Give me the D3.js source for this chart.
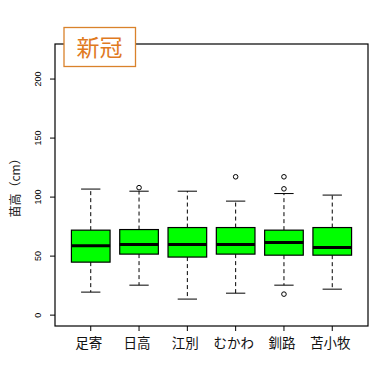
<!DOCTYPE html>
<html><head><meta charset="utf-8">
<script src="https://cdn.jsdelivr.net/npm/d3@7"></script>
<style>body{margin:0;background:#fff}svg{display:block}</style>
</head><body>
<script>
const categories = ["足寄","日高","江別","むかわ","釧路","苫小牧"];
const whiskerLow  = [19.5, 25.4, 13.6, 18.6, 25.4, 22.0];
const q1          = [44.9, 51.7, 49.2, 51.7, 50.8, 50.8];
const medians     = [58.7, 59.8, 59.8, 59.8, 61.5, 57.3];
const q3          = [72.0, 72.5, 74.2, 74.2, 72.0, 74.2];
const whiskerHigh = [106.8, 105.0, 105.0, 96.6, 103.0, 101.7];
const outliers    = [[], [108], [], [117.2], [117.2, 107, 17.8], []];
const yTicks = [0, 50, 100, 150, 200];
const title = "新冠";
const yLabel = "苗高（cm）";

const W = 391, H = 383;
const svg = d3.select("body").append("svg").attr("width", W).attr("height", H);
const L = 55, R = 368, T = 44, B = 326;
const x = d3.scaleLinear().domain([0.26, 6.74]).range([L, R]);
const y = d3.scaleLinear().domain([-9.2, 229.7]).range([B, T]);
const bw = 0.8;

const data = categories.map((c, i) => ({c, i: i + 1, lo: whiskerLow[i], q1: q1[i], md: medians[i], q3: q3[i], hi: whiskerHigh[i], out: outliers[i]}));

const g = svg.append("g");
data.forEach(d => {
  const cx = x(d.i), half = (x(bw) - x(0)) / 2, cap = half / 2;
  g.append("line").attr("x1", cx).attr("x2", cx).attr("y1", y(d.q3)).attr("y2", y(d.hi))
    .attr("stroke", "#000").attr("stroke-dasharray", "4,3");
  g.append("line").attr("x1", cx).attr("x2", cx).attr("y1", y(d.q1)).attr("y2", y(d.lo))
    .attr("stroke", "#000").attr("stroke-dasharray", "4,3");
  g.append("line").attr("x1", cx - cap).attr("x2", cx + cap).attr("y1", y(d.hi)).attr("y2", y(d.hi)).attr("stroke", "#000");
  g.append("line").attr("x1", cx - cap).attr("x2", cx + cap).attr("y1", y(d.lo)).attr("y2", y(d.lo)).attr("stroke", "#000");
  g.append("rect").attr("x", cx - half).attr("y", y(d.q3)).attr("width", 2 * half).attr("height", y(d.q1) - y(d.q3))
    .attr("fill", "#00ff00").attr("stroke", "#000").attr("stroke-width", 1.2);
  g.append("line").attr("x1", cx - half).attr("x2", cx + half).attr("y1", y(d.md)).attr("y2", y(d.md))
    .attr("stroke", "#000").attr("stroke-width", 3);
  d.out.forEach(v => g.append("circle").attr("cx", cx).attr("cy", y(v)).attr("r", 2.3)
    .attr("fill", "none").attr("stroke", "#000").attr("stroke-width", 1));
});

// frame
svg.append("rect").attr("x", L).attr("y", T).attr("width", R - L).attr("height", B - T)
  .attr("fill", "none").attr("stroke", "#000").attr("stroke-width", 1.2);

// y axis
const ya = svg.append("g");
yTicks.forEach(t => {
  ya.append("line").attr("x1", L - 5).attr("x2", L).attr("y1", y(t)).attr("y2", y(t)).attr("stroke", "#000");
  ya.append("text").attr("transform", `translate(${L - 14},${y(t)}) rotate(-90)`)
    .attr("text-anchor", "middle").attr("font-family", "Liberation Sans, Arial, sans-serif").attr("font-size", 9).text(t);
});
// x axis
categories.forEach((c, i) => {
  svg.append("line").attr("x1", x(i + 1)).attr("x2", x(i + 1)).attr("y1", B).attr("y2", B + 5).attr("stroke", "#000");
  svg.append("text").attr("x", x(i + 1) - 2).attr("y", 348).attr("text-anchor", "middle")
    .attr("font-family", "Noto Sans CJK JP, sans-serif").attr("font-size", 13.5).attr("fill", "#111").text(c);
});
// y label
svg.append("text").attr("transform", `translate(20,${(T + B) / 2}) rotate(-90)`).attr("text-anchor", "middle")
  .attr("font-family", "Noto Sans CJK JP, sans-serif").attr("font-size", 12).attr("fill", "#222").text(yLabel);

// title box
svg.append("rect").attr("x", 64).attr("y", 27.5).attr("width", 71.5).attr("height", 39)
  .attr("fill", "#fff").attr("stroke", "#d9822b").attr("stroke-width", 1.3);
svg.append("text").attr("x", 99.5).attr("y", 56).attr("text-anchor", "middle")
  .attr("font-family", "Noto Sans CJK JP, sans-serif").attr("font-size", 23).attr("fill", "#e07a1f").text(title);
</script>
</body></html>
